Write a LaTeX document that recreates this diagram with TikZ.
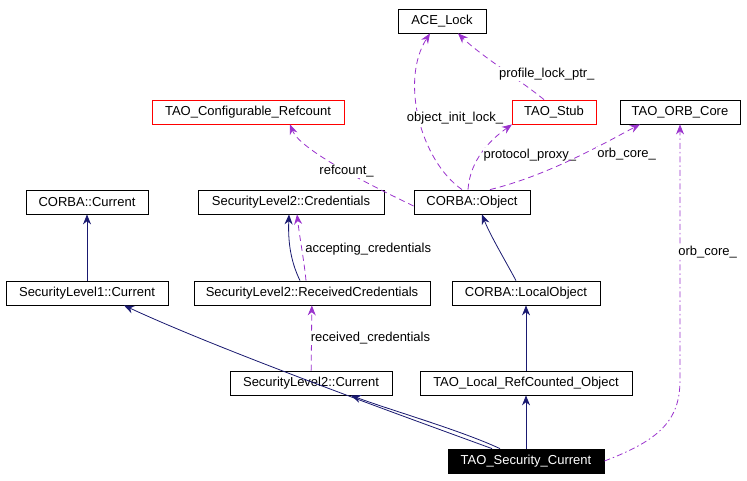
\documentclass[tikz,border=0pt]{standalone}
\usepackage{fontspec}
\setmainfont{Liberation Sans}
\usetikzlibrary{arrows.meta}
\definecolor{navy}{HTML}{191970}
\definecolor{purp}{HTML}{9A32CD}
\begin{document}
\begin{tikzpicture}[x=1pt,y=-1pt,
  box/.style={draw,thick,minimum height=24pt,inner xsep=3pt,font=\fontsize{13}{15}\selectfont},
  inh/.style={navy,thick,-{Stealth[length=10pt,width=8pt]}},
  use/.style={purp,thick,dash pattern=on 6pt off 4pt,-{Stealth[length=10pt,width=8pt]}},
  lab/.style={text=black,font=\fontsize{13}{15}\selectfont,fill=white,inner sep=1pt}]
\useasboundingbox (0,0) rectangle (747,480);
\node[box,minimum width=88pt] (ace) at (442,21) {ACE\_Lock};
\node[box,draw=red,minimum width=192pt] (cfg) at (248,112) {TAO\_Configurable\_Refcount};
\node[box,draw=red,minimum width=84pt] (stub) at (554,112) {TAO\_Stub};
\node[box,minimum width=120pt] (orb) at (680,112) {TAO\_ORB\_Core};
\node[box,minimum width=122pt] (cc) at (87,202) {CORBA::Current};
\node[box,minimum width=186pt] (cred) at (291,202) {SecurityLevel2::Credentials};
\node[box,minimum width=116pt] (obj) at (472,202) {CORBA::Object};
\node[box,minimum width=162pt] (s1) at (87,293) {SecurityLevel1::Current};
\node[box,minimum width=236pt] (rc) at (312,293) {SecurityLevel2::ReceivedCredentials};
\node[box,minimum width=148pt] (lo) at (526,293) {CORBA::LocalObject};
\node[box,minimum width=162pt] (s2) at (311,383) {SecurityLevel2::Current};
\node[box,minimum width=212pt] (lr) at (526,383) {TAO\_Local\_RefCounted\_Object};
\node[box,fill=black,text=white,minimum width=156pt] (tsc) at (526,461) {TAO\_Security\_Current};

\draw[inh] (s1) -- (cc);
\draw[inh] ([xshift=-34pt]tsc.north) .. controls (400,415) and (220,350) .. ([xshift=37pt]s1.south);
\draw[inh] ([xshift=-26pt]tsc.north) .. controls (460,430) and (390,410) .. ([xshift=40pt]s2.south);
\draw[inh] (tsc) -- (lr);
\draw[inh] (lr) -- (lo);
\draw[inh] ([xshift=-10pt]lo.north) .. controls (505,260) and (490,235) .. ([xshift=10pt]obj.south);
\draw[inh] ([xshift=-12pt]rc.north) .. controls (290,260) and (288,240) .. ([xshift=-2pt]cred.south);
\draw[use] ([xshift=-6pt]rc.north) .. controls (304,260) and (300,240) .. ([xshift=6pt]cred.south)
  node[lab,pos=0.5,anchor=west,xshift=2pt] {accepting\_credentials};
\draw[use] (s2) -- node[lab,anchor=west,xshift=-2pt] {received\_credentials} (rc);
\draw[use] ([yshift=-4pt]obj.west) .. controls (370,185) and (300,150) .. ([xshift=42pt]cfg.south)
  node[lab,pos=0.45] {refcount\_};
\draw[use] ([xshift=-10pt]obj.north) .. controls (420,160) and (400,80) .. ([xshift=-12pt]ace.south)
  node[lab,pos=0.5,xshift=36pt] {object\_init\_lock\_};
\draw[use] ([xshift=-10pt]stub.north) .. controls (520,80) and (480,55) .. ([xshift=16pt]ace.south)
  node[lab,pos=0.4,anchor=west,xshift=-12pt] {profile\_lock\_ptr\_};
\draw[use] ([xshift=-4pt]obj.north) .. controls (470,160) and (490,140) .. ([xshift=-42pt]stub.south)
  node[lab,pos=0.45,anchor=west,xshift=2pt] {protocol\_proxy\_};
\draw[use] ([xshift=18pt]obj.north) .. controls (550,175) and (610,140) .. ([xshift=-40pt]orb.south)
  node[lab,pos=0.55,anchor=west,xshift=12pt] {orb\_core\_};
\draw[use,dash pattern=on 6pt off 3pt on 1.5pt off 3pt] (tsc.east) .. controls (660,440) and (680,420) .. (680,380) -- (orb.south)
  node[lab,pos=0.5,anchor=west,xshift=-3pt] {orb\_core\_};
\end{tikzpicture}
\end{document}
